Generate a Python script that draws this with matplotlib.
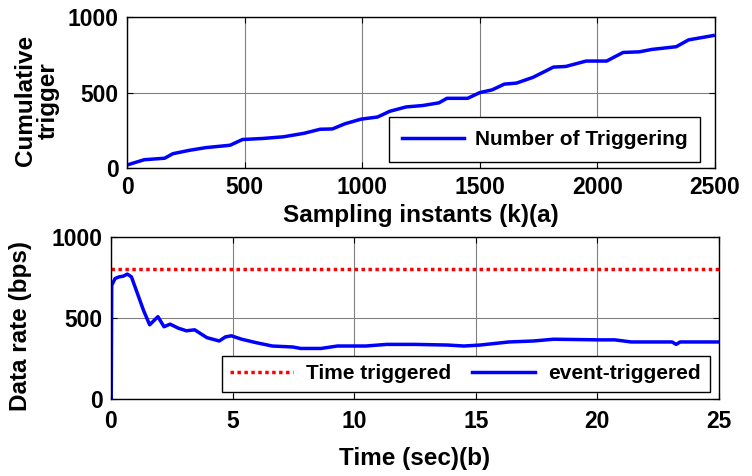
import matplotlib
matplotlib.use("Agg")
import matplotlib.pyplot as plt

plt.rcParams['font.family'] = ['Liberation Sans', 'DejaVu Sans']
plt.rcParams['font.weight'] = 'bold'

# (a) cumulative number of triggering events vs. sampling instant
k_samples = [0, 73, 160, 195, 264, 334, 438, 491, 578, 665, 752, 821, 873, 926,
             995, 1065, 1117, 1187, 1256, 1326, 1360, 1448, 1500, 1552, 1604,
             1656, 1726, 1813, 1865, 1952, 2039, 2109, 2178, 2231, 2335, 2387, 2492]
cum_trigger = [20, 55, 65, 95, 117, 135, 151, 189, 196, 207, 230, 257, 259, 293,
               324, 338, 376, 405, 414, 432, 462, 462, 500, 518, 556,
               563, 601, 669, 673, 709, 709, 766, 770, 786, 804, 849, 878]

# (b) data rate of the two triggering schemes
t_sec = [0, 0.01, 0.03, 0.17, 0.34, 0.5, 0.67, 0.84, 1.09, 1.34, 1.59, 1.93, 2.18,
         2.43, 2.77, 3.1, 3.44, 3.94, 4.45, 4.7, 4.95, 5.37, 5.96, 6.63, 7.47,
         7.8, 8.64, 9.31, 10.48, 11.33, 12.5, 13.84, 14.51, 15.18, 16.36, 17.37,
         18.2, 20.05, 20.72, 21.39, 23.07, 23.24, 23.4, 25]
event_rate = [0, 0, 702, 744, 754, 758, 771, 754, 650, 546, 458, 508, 446,
              462, 437, 421, 427, 379, 358, 383, 390, 369, 348, 327, 321,
              312, 312, 327, 327, 337, 337, 333, 327, 333, 352, 358,
              369, 365, 365, 352, 352, 337, 352, 352]
time_rate = 800

x1_ticks = [0, 500, 1000, 1500, 2000, 2500]
y_ticks = [0, 500, 1000]
x2_ticks = [0, 5, 10, 15, 20, 25]

tick_fs = 16.5
label_fs = 17.5
legend_fs = 15

fig = plt.figure(figsize=(7.52, 4.76), dpi=100)
ax1 = fig.add_axes([0.1689, 0.647, 0.782, 0.317])
ax2 = fig.add_axes([0.1476, 0.1618, 0.8085, 0.3403])

blue = '#0000ff'
red = '#ff0000'

ax1.plot(k_samples, cum_trigger, color=blue, lw=2.5, label='Number of Triggering')
ax1.set_xlim(0, 2500)
ax1.set_ylim(0, 1000)
ax1.set_xticks(x1_ticks)
ax1.set_yticks(y_ticks)
ax1.set_xlabel('Sampling instants (k)(a)', fontsize=label_fs, fontweight='bold',
               labelpad=3)
ax1.set_ylabel('Cumulative\ntrigger', fontsize=label_fs, fontweight='bold',
               linespacing=1.0)
ax1.yaxis.set_label_coords(-0.114, 0.45)
ax1.legend(loc='lower right', bbox_to_anchor=(0.9745, 0.04), borderaxespad=0,
           fontsize=legend_fs, fancybox=False, edgecolor='black', framealpha=1,
           handlelength=3.0, handletextpad=0.5, borderpad=0.62)

ax2.plot([0, 25], [time_rate, time_rate], color=red, lw=2.5, ls=(0, (1, 1)),
         label='Time triggered')
ax2.plot(t_sec, event_rate, color=blue, lw=2.5, label='event-triggered')
ax2.set_xlim(0, 25)
ax2.set_ylim(0, 1000)
ax2.set_xticks(x2_ticks)
ax2.set_yticks(y_ticks)
ax2.set_xlabel('Time (sec)(b)', fontsize=label_fs, fontweight='bold', labelpad=10)
ax2.set_ylabel('Data rate (bps)', fontsize=label_fs, fontweight='bold')
ax2.yaxis.set_label_coords(-0.13, 0.45)
ax2.legend(loc='lower right', bbox_to_anchor=(0.985, 0.043), borderaxespad=0,
           fontsize=legend_fs, fancybox=False, edgecolor='black', framealpha=1,
           ncol=2, handlelength=3.0, handletextpad=0.65, columnspacing=1.0,
           borderpad=0.42)

for ax, xpad in ((ax1, 6), (ax2, 8)):
    ax.grid(True, color='#808080', lw=0.8)
    ax.set_axisbelow(True)
    ax.tick_params(direction='in', top=True, right=True, length=4,
                   labelsize=tick_fs)
    ax.tick_params(axis='x', pad=xpad)
    ax.tick_params(axis='y', pad=6)
    for lab in ax.get_xticklabels() + ax.get_yticklabels():
        lab.set_fontweight('bold')
    for sp in ax.spines.values():
        sp.set_linewidth(1.0)

fig.savefig('out.png', dpi=100)
